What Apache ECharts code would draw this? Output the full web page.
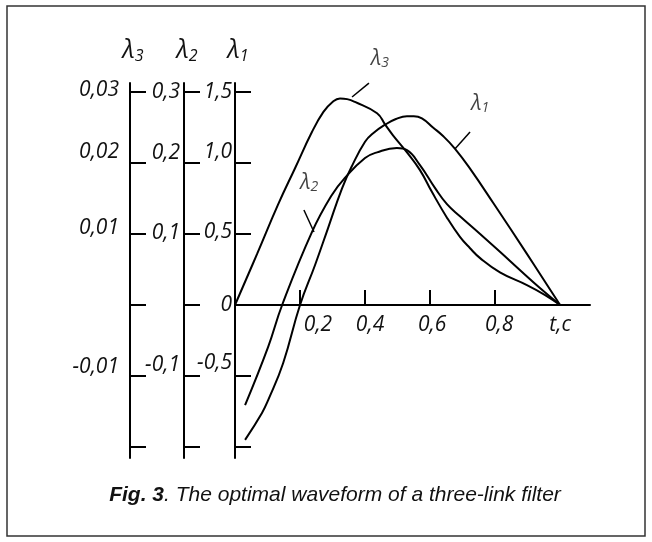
<!DOCTYPE html>
<html><head><meta charset="utf-8">
<script src="https://cdn.jsdelivr.net/npm/echarts@6/dist/echarts.min.js"></script>
<style>html,body{margin:0;padding:0;background:#fff}#c{width:652px;height:542px}</style>
</head><body><div id="c"></div>
<script>
// ---- data (t in seconds) ----
const tLambda1 = [0.031,0.083,0.102,0.148,0.2,0.246,0.286,0.329,0.36,0.4,0.425,0.462,0.495,0.529,0.55,0.575,0.609,0.64,0.677,0.723,0.794,0.898,1.0];
const lambda1  = [-0.95,-0.76,-0.67,-0.41,0,0.28,0.54,0.82,0.98,1.15,1.21,1.27,1.31,1.33,1.33,1.315,1.25,1.19,1.10,0.96,0.72,0.36,0];
const tLambda2 = [0.031,0.102,0.145,0.237,0.298,0.338,0.4,0.437,0.498,0.529,0.569,0.615,0.652,0.692,0.754,0.815,0.877,0.938,1.0];
const lambda2  = [-0.141,-0.059,0,0.103,0.155,0.179,0.207,0.215,0.221,0.218,0.197,0.165,0.142,0.125,0.100,0.075,0.049,0.024,0];
const tLambda3 = [0,0.068,0.132,0.185,0.237,0.272,0.3,0.323,0.345,0.369,0.437,0.462,0.486,0.529,0.569,0.606,0.652,0.692,0.723,0.754,0.815,0.898,0.954,1.0];
const lambda3  = [0,0.0072,0.0141,0.0193,0.0244,0.0272,0.0286,0.0291,0.0290,0.0286,0.0270,0.0254,0.0239,0.0215,0.0190,0.0159,0.0123,0.0096,0.0080,0.0066,0.0046,0.0028,0.0014,0];

const xTickValues  = [0.2,0.4,0.6,0.8];
const xLabelValues = [0.2,0.4,0.6,0.8,1.0];
const xLabelTexts  = ['0,2','0,4','0,6','0,8','t,c'];

const l1Ticks = [-1,-0.5,0,0.5,1,1.5];
const l1LabelValues = [-0.5,0,0.5,1,1.5];
const l1LabelTexts  = ['-0,5','0','0,5','1,0','1,5'];
const l2Ticks = [-0.2,-0.1,0,0.1,0.2,0.3];
const l2LabelValues = [-0.1,0.1,0.2,0.3];
const l2LabelTexts  = ['-0,1','0,1','0,2','0,3'];
const l3Ticks = [-0.02,-0.01,0,0.01,0.02,0.03];
const l3LabelValues = [-0.01,0.01,0.02,0.03];
const l3LabelTexts  = ['-0,01','0,01','0,02','0,03'];

const axisNames = ['1','2','3'];
// curve annotations (on λ1 scale): label anchor and leader line ends
const curveLabelSub = ['3','1','2'];
const curveLabelT   = [0.446,0.754,0.228];
const curveLabelV   = [1.732,1.415,0.859];
const leaderT1 = [0.36,0.677,0.212], leaderV1 = [1.465,1.10,0.669];
const leaderT2 = [0.412,0.723,0.243], leaderV2 = [1.563,1.218,0.514];

// ---- styling helpers ----
const FONT = '"Open Sans", "DejaVu Sans", sans-serif';
const tickFont = {fontFamily: FONT, fontStyle: 'italic', fontSize: 21, color: '#111'};
function findIdx(arr, v){ for (let i=0;i<arr.length;i++) if (Math.abs(arr[i]-v)<1e-9) return i; return -1; }
function shiftRich(){ const r={}; for(let s=0;s<=16;s++){ r['u'+s]=Object.assign({}, tickFont, {padding:[0,0,2*s,0]}); } return r; }
function lamRich(big, small, shift){
  return {
    l: {fontFamily: FONT, fontStyle:'italic', fontSize: big, color:'#111', padding:[0,0,0,shift||0]},
    s: {fontFamily: FONT, fontStyle:'italic', fontSize: small, color:'#111', padding:[Math.round(small*0.6),0,0,0]}
  };
}
function yAxisCfg(o){
  return {
    type:'value', position:'left', offset:o.offset, min:o.min, max:o.max,
    name:'{l|λ}{s|'+o.sub+'}', nameLocation:'end', nameGap:19,
    nameTextStyle:{rich: lamRich(25,16,6)},
    axisLine:{show:true, onZero:false, lineStyle:{color:'#000', width:2}},
    axisTick:{show:true, inside:true, length:16, customValues:o.ticks, lineStyle:{color:'#000', width:2}},
    axisLabel:{show:true, margin:o.margin, customValues:o.labelValues,
      formatter:function(v){ const i=findIdx(o.labelValues,v); if(i<0) return ''; const t=o.labelTexts[i]; return '{u'+(o.shifts[t]||0)+'|'+t+'}'; },
      rich: shiftRich()},
    splitLine:{show:false}
  };
}
function xLabelRich(){ const r={}; [0,4,8,10,36].forEach(p=>{ r['p'+p]=Object.assign({}, tickFont, {padding:[0,0,0,p]}); }); return r; }
const xLabelPad = {'0,2':36,'0,4':10,'0,6':4,'0,8':8,'t,c':0};

function zip(a,b){ return a.map((x,i)=>[x,b[i]]); }
const curveStyle = {color:'#000', width:2};
const SMOOTH = 0.45;

const option = {
  animation:false,
  backgroundColor:'#fff',
  grid:{left:235, right:62, top:83, bottom:84, containLabel:false, outerBoundsMode:'none'},
  xAxis:{
    type:'value', min:0, max:1.092, position:'bottom', offset:-153,
    axisLine:{show:true, onZero:false, lineStyle:{color:'#000', width:2}},
    axisTick:{show:true, inside:true, length:15, customValues:xTickValues, lineStyle:{color:'#000', width:2}},
    axisLabel:{show:true, margin:10, customValues:xLabelValues,
      formatter:function(v){ const i=findIdx(xLabelValues,v); if(i<0) return ''; const t=xLabelTexts[i]; return '{p'+xLabelPad[t]+'|'+t+'}'; },
      rich:xLabelRich()},
    splitLine:{show:false}
  },
  yAxis:[
    yAxisCfg({offset:0, min:-1.0775, max:1.5634, sub:axisNames[0], ticks:l1Ticks, labelValues:l1LabelValues, labelTexts:l1LabelTexts, margin:3,
      shifts:{'1,5':0,'1,0':11,'0,5':2,'0':0,'-0,5':13}}),
    yAxisCfg({offset:51, min:-0.21549, max:0.31268, sub:axisNames[1], ticks:l2Ticks, labelValues:l2LabelValues, labelTexts:l2LabelTexts, margin:4,
      shifts:{'0,3':0,'0,2':10,'0,1':1,'-0,1':11}}),
    yAxisCfg({offset:105, min:-0.021549, max:0.031268, sub:axisNames[2], ticks:l3Ticks, labelValues:l3LabelValues, labelTexts:l3LabelTexts, margin:11,
      shifts:{'0,03':2,'0,02':11,'0,01':6,'-0,01':9}})
  ],
  series:[
    {name:'λ1', type:'line', xAxisIndex:0, yAxisIndex:0, data:zip(tLambda1,lambda1), showSymbol:false, symbol:'none', smooth:SMOOTH, lineStyle:curveStyle, clip:false, silent:true},
    {name:'λ2', type:'line', xAxisIndex:0, yAxisIndex:1, data:zip(tLambda2,lambda2), showSymbol:false, symbol:'none', smooth:SMOOTH, lineStyle:curveStyle, clip:false, silent:true},
    {name:'λ3', type:'line', xAxisIndex:0, yAxisIndex:2, data:zip(tLambda3,lambda3), showSymbol:false, symbol:'none', smooth:SMOOTH, lineStyle:curveStyle, clip:false, silent:true}
  ].concat(leaderT1.map((t,i)=>({
    type:'line', xAxisIndex:0, yAxisIndex:0, data:[[t,leaderV1[i]],[leaderT2[i],leaderV2[i]]],
    showSymbol:false, symbol:'none', lineStyle:{color:'#000', width:1.5}, clip:false, silent:true
  }))).concat([{
    type:'scatter', xAxisIndex:0, yAxisIndex:0, symbolSize:0, clip:false, silent:true,
    data: curveLabelT.map((t,i)=>[t, curveLabelV[i], curveLabelSub[i]]),
    label:{show:true, position:'inside', formatter:function(p){ return '{l|λ}{s|'+p.data[2]+'}'; }, rich: lamRich(21,14,0)}
  }]),
  graphic:[
    {type:'rect', shape:{x:7, y:6, width:638, height:530}, style:{fill:'none', stroke:'#333', lineWidth:1.5}, silent:true},
    {type:'text', x:335, y:495, style:{
      text:'{b|Fig. 3}{n|. The optimal waveform of a three-link filter}',
      align:'center', verticalAlign:'middle',
      rich:{
        b:{fontFamily:'"Liberation Sans", Arial, sans-serif', fontStyle:'italic', fontWeight:'bold', fontSize:21, fill:'#111'},
        n:{fontFamily:'"Liberation Sans", Arial, sans-serif', fontStyle:'italic', fontSize:21, fill:'#111'}
      }}, silent:true}
  ]
};
const chart = echarts.init(document.getElementById('c'), null, {renderer:'canvas'});
chart.setOption(option);
</script>
</body></html>
